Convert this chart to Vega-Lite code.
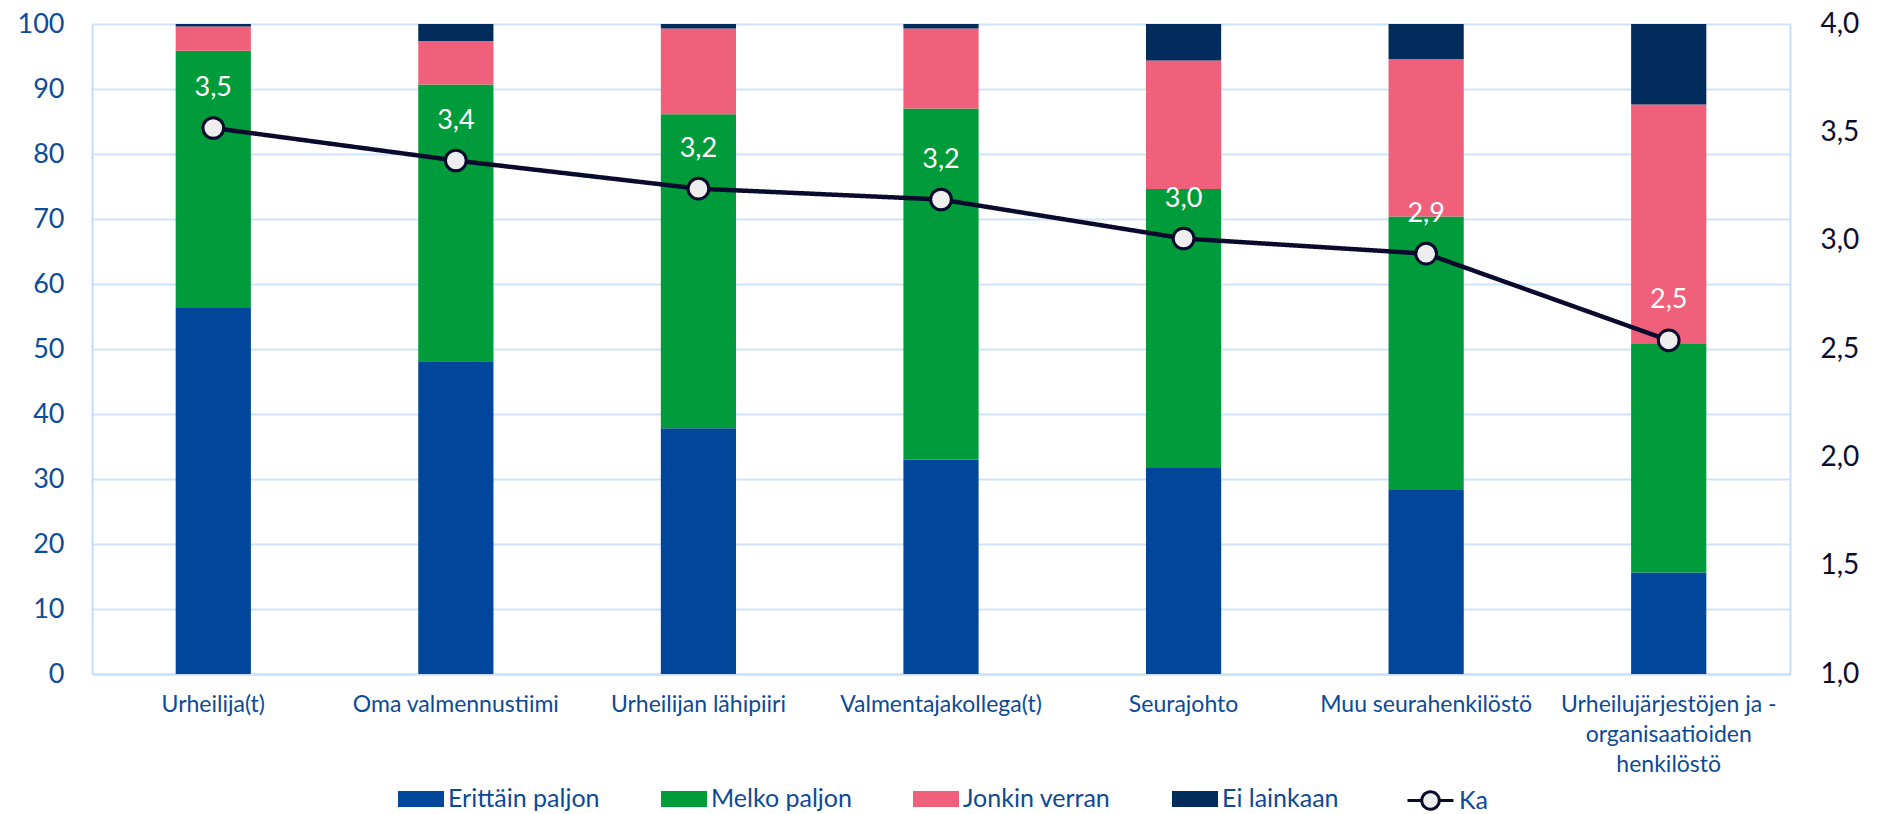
{
  "$schema": "https://vega.github.io/schema/vega-lite/v6.json",
  "width": 1698,
  "height": 650,
  "autosize": {"type": "none"},
  "padding": {"left": 92, "top": 24, "right": 97, "bottom": 140},
  "config": {
    "font": "Lato",
    "view": {"stroke": null},
    "locale": {"number": {"decimal": ",", "thousands": "\u00a0", "grouping": [3], "currency": ["", " €"]}}
  },
  "datasets": {
    "bars": [
      {"kohde": "Urheilija(t)", "vastaus": "Erittäin paljon", "jarj": 1, "osuus": 56.3},
      {"kohde": "Urheilija(t)", "vastaus": "Melko paljon", "jarj": 2, "osuus": 39.6},
      {"kohde": "Urheilija(t)", "vastaus": "Jonkin verran", "jarj": 3, "osuus": 3.7},
      {"kohde": "Urheilija(t)", "vastaus": "Ei lainkaan", "jarj": 4, "osuus": 0.4},
      {"kohde": "Oma valmennustiimi", "vastaus": "Erittäin paljon", "jarj": 1, "osuus": 48.1},
      {"kohde": "Oma valmennustiimi", "vastaus": "Melko paljon", "jarj": 2, "osuus": 42.6},
      {"kohde": "Oma valmennustiimi", "vastaus": "Jonkin verran", "jarj": 3, "osuus": 6.7},
      {"kohde": "Oma valmennustiimi", "vastaus": "Ei lainkaan", "jarj": 4, "osuus": 2.6},
      {"kohde": "Urheilijan lähipiiri", "vastaus": "Erittäin paljon", "jarj": 1, "osuus": 37.8},
      {"kohde": "Urheilijan lähipiiri", "vastaus": "Melko paljon", "jarj": 2, "osuus": 48.3},
      {"kohde": "Urheilijan lähipiiri", "vastaus": "Jonkin verran", "jarj": 3, "osuus": 13.2},
      {"kohde": "Urheilijan lähipiiri", "vastaus": "Ei lainkaan", "jarj": 4, "osuus": 0.7},
      {"kohde": "Valmentajakollega(t)", "vastaus": "Erittäin paljon", "jarj": 1, "osuus": 33.0},
      {"kohde": "Valmentajakollega(t)", "vastaus": "Melko paljon", "jarj": 2, "osuus": 54.0},
      {"kohde": "Valmentajakollega(t)", "vastaus": "Jonkin verran", "jarj": 3, "osuus": 12.3},
      {"kohde": "Valmentajakollega(t)", "vastaus": "Ei lainkaan", "jarj": 4, "osuus": 0.7},
      {"kohde": "Seurajohto", "vastaus": "Erittäin paljon", "jarj": 1, "osuus": 31.7},
      {"kohde": "Seurajohto", "vastaus": "Melko paljon", "jarj": 2, "osuus": 42.9},
      {"kohde": "Seurajohto", "vastaus": "Jonkin verran", "jarj": 3, "osuus": 19.8},
      {"kohde": "Seurajohto", "vastaus": "Ei lainkaan", "jarj": 4, "osuus": 5.6},
      {"kohde": "Muu seurahenkilöstö", "vastaus": "Erittäin paljon", "jarj": 1, "osuus": 28.3},
      {"kohde": "Muu seurahenkilöstö", "vastaus": "Melko paljon", "jarj": 2, "osuus": 42.1},
      {"kohde": "Muu seurahenkilöstö", "vastaus": "Jonkin verran", "jarj": 3, "osuus": 24.2},
      {"kohde": "Muu seurahenkilöstö", "vastaus": "Ei lainkaan", "jarj": 4, "osuus": 5.4},
      {"kohde": "Urheilujärjestöjen ja -organisaatioiden henkilöstö", "vastaus": "Erittäin paljon", "jarj": 1, "osuus": 15.6},
      {"kohde": "Urheilujärjestöjen ja -organisaatioiden henkilöstö", "vastaus": "Melko paljon", "jarj": 2, "osuus": 35.3},
      {"kohde": "Urheilujärjestöjen ja -organisaatioiden henkilöstö", "vastaus": "Jonkin verran", "jarj": 3, "osuus": 36.7},
      {"kohde": "Urheilujärjestöjen ja -organisaatioiden henkilöstö", "vastaus": "Ei lainkaan", "jarj": 4, "osuus": 12.4}
    ],
    "ka": [
      {"kohde": "Urheilija(t)", "ka": 3.52},
      {"kohde": "Oma valmennustiimi", "ka": 3.37},
      {"kohde": "Urheilijan lähipiiri", "ka": 3.24},
      {"kohde": "Valmentajakollega(t)", "ka": 3.19},
      {"kohde": "Seurajohto", "ka": 3.01},
      {"kohde": "Muu seurahenkilöstö", "ka": 2.94},
      {"kohde": "Urheilujärjestöjen ja -organisaatioiden henkilöstö", "ka": 2.54}
    ]
  },
  "layer": [
    {
      "data": {"name": "bars"},
      "mark": {"type": "bar"},
      "encoding": {
        "x": {
          "field": "kohde", "type": "nominal", "sort": null,
          "scale": {"paddingInner": 0.69, "paddingOuter": 0.345},
          "axis": {
            "title": null, "labelAngle": 0, "ticks": false, "labelLimit": 0,
            "domainColor": "#c5dff8", "domainWidth": 2,
            "labelFontSize": 23, "labelColor": "#0d4a96", "labelPadding": 19, "labelLineHeight": 30,
            "labelExpr": "datum.label == 'Urheilujärjestöjen ja -organisaatioiden henkilöstö' ? ['Urheilujärjestöjen ja -', 'organisaatioiden', 'henkilöstö'] : datum.label"
          }
        },
        "y": {
          "field": "osuus", "type": "quantitative", "stack": "zero",
          "scale": {"domain": [0, 100], "nice": false},
          "axis": {
            "title": null, "values": [0, 10, 20, 30, 40, 50, 60, 70, 80, 90, 100],
            "grid": true, "gridColor": "#cfe4fa", "gridWidth": 2, "ticks": false,
            "domainColor": "#c5dff8", "domainWidth": 2,
            "labelFontSize": 27, "labelColor": "#0b4c9c", "labelPadding": 28
          }
        },
        "color": {
          "field": "vastaus", "type": "nominal",
          "scale": {
            "domain": ["Erittäin paljon", "Melko paljon", "Jonkin verran", "Ei lainkaan"],
            "range": ["#00479b", "#009b3a", "#f0607a", "#022c5c"]
          },
          "legend": {
            "orient": "none", "legendX": 306, "legendY": 752, "direction": "horizontal",
            "title": null, "labelFontSize": 25, "labelColor": "#0d4a96",
            "columnPadding": 61, "gridAlign": "none", "labelOffset": 4,
            "symbolSize": 2116, "symbolType": "M-1,-0.35L1,-0.35L1,0.35L-1,0.35Z",
            "symbolStrokeWidth": 0, "symbolOpacity": 1
          }
        },
        "order": {"field": "jarj", "type": "quantitative"}
      }
    },
    {
      "data": {"name": "ka"},
      "encoding": {
        "x": {"field": "kohde", "type": "nominal", "sort": null},
        "y": {
          "field": "ka", "type": "quantitative",
          "scale": {"domain": [1, 4], "nice": false},
          "axis": {
            "orient": "right", "title": null, "values": [1, 1.5, 2, 2.5, 3, 3.5, 4], "format": ".1f",
            "grid": false, "ticks": false, "domainColor": "#c5dff8", "domainWidth": 2,
            "labelFontSize": 28, "labelColor": "#0d0d2b", "labelPadding": 30
          }
        }
      },
      "layer": [
        {
          "mark": {"type": "line", "strokeWidth": 4.5, "stroke": "#0a0a2e"},
          "encoding": {
            "strokeDash": {
              "datum": "Ka",
              "scale": {"domain": ["Ka"], "range": [[1, 0]]},
              "legend": {
                "orient": "none", "legendX": 1314, "legendY": 752,
                "title": null, "labelFontSize": 25, "labelColor": "#0d4a96", "labelOffset": 4,
                "symbolSize": 2116,
                "symbolType": "M-1,0L-0.38,0M0.38,0L1,0M-0.38,0A0.38,0.38 0 1,1 0.38,0A0.38,0.38 0 1,1 -0.38,0Z",
                "symbolStrokeColor": "#0a0a2e", "symbolStrokeWidth": 3, "symbolFillColor": "#eeeeee", "symbolOpacity": 1
              }
            }
          }
        },
        {"mark": {"type": "circle", "size": 430, "fill": "#eeeeee", "stroke": "#0a0a2e", "strokeWidth": 3, "opacity": 1, "fillOpacity": 1}},
        {"mark": {"type": "text", "dy": -40, "color": "white", "fontSize": 27}, "encoding": {"text": {"field": "ka", "type": "quantitative", "format": ".1f"}}}
      ]
    }
  ],
  "resolve": {"scale": {"y": "independent"}}
}
